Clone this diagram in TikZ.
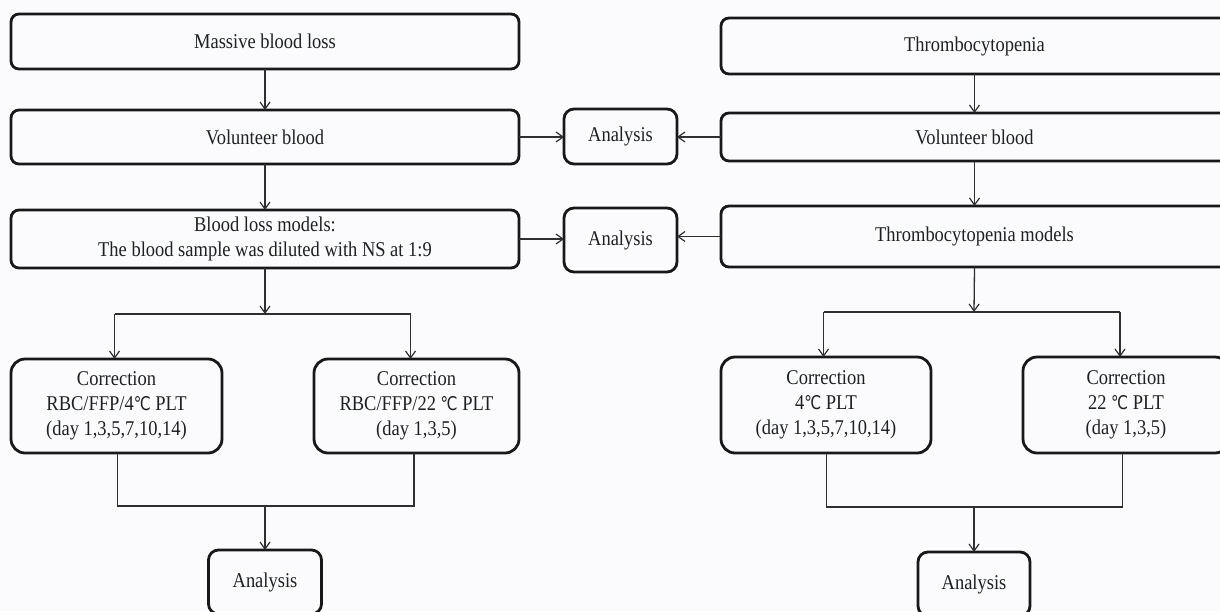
\documentclass[tikz,border=0pt]{standalone}
\usepackage{fontspec}
\setmainfont{Liberation Serif}[FakeStretch=0.88]
\newfontfamily\symfont{DejaVu Sans}[FakeStretch=0.8,Scale=0.9]
\newcommand\degc{{\symfont ℃}}
\usetikzlibrary{arrows.meta}
\definecolor{bgc}{RGB}{251,251,253}
\definecolor{boxc}{RGB}{22,24,26}
\definecolor{linec}{RGB}{45,48,50}
\definecolor{txtc}{RGB}{28,34,36}
\tikzset{
  box/.style={draw=boxc, line width=2.8pt, rounded corners=8pt, inner sep=0pt, outer sep=0pt,
    font=\fontsize{21}{25}\selectfont, text=txtc, align=center},
  corrbox/.style={box, rounded corners=14pt},
  anbox/.style={box, rounded corners=10pt},
  conn/.style={draw=linec, line width=1.3pt},
  arr/.style={conn, -{Straight Barb[length=7pt,width=10pt,line width=1.2pt]}}
}
\begin{document}
\begin{tikzpicture}[x=1pt,y=-1pt]
\useasboundingbox (0,0) rectangle (1220,611);
\fill[bgc] (0,0) rectangle (1220,611);
\clip (0,0) rectangle (1220,611);

% ---------- left column ----------
\node[box, minimum width=508pt, minimum height=55pt] (A1) at (265,41.5) {Massive blood loss};
\node[box, minimum width=508pt, minimum height=54pt] (A2) at (265,137) {Volunteer blood};
\node[box, minimum width=508pt, minimum height=58pt] (A3) at (265,239) {Blood loss models:\\The blood sample was diluted with NS at 1:9};
\node[anbox, minimum width=113pt, minimum height=55pt] (N1) at (620.5,136.5) {Analysis};
\node[anbox, minimum width=113pt, minimum height=64pt] (N2) at (620.5,240) {Analysis};
\node[corrbox, minimum width=211pt, minimum height=94pt] (C1) at (116.5,406) {Correction\\RBC/FFP/4\degc{} PLT\\(day 1,3,5,7,10,14)};
\node[corrbox, minimum width=205pt, minimum height=94pt] (C2) at (416.5,406) {Correction\\RBC/FFP/22 \degc{} PLT\\(day 1,3,5)};
\node[anbox, minimum width=113pt, minimum height=64pt] (D1) at (265,582) {Analysis};

% ---------- right column ----------
\node[box, minimum width=507pt, minimum height=56pt] (B1) at (974.5,46) {Thrombocytopenia};
\node[box, minimum width=507pt, minimum height=48pt] (B2) at (974.5,137) {Volunteer blood};
\node[box, minimum width=507pt, minimum height=61pt] (B3) at (974.5,236.5) {Thrombocytopenia models};
\node[corrbox, minimum width=210pt, minimum height=96pt] (C3) at (826,405) {Correction\\4\degc{} PLT\\(day 1,3,5,7,10,14)};
\node[corrbox, minimum width=206pt, minimum height=96pt] (C4) at (1126,405) {Correction\\22 \degc{} PLT\\(day 1,3,5)};
\node[anbox, minimum width=112pt, minimum height=64pt] (D2) at (974,584) {Analysis};

% ---------- coordinates ----------
\coordinate (S1) at (265,314);
\coordinate (S1l) at (114.5,314);
\coordinate (S1r) at (410.5,314);
\coordinate (M1) at (265,506);
\coordinate (M1l) at (117.5,506);
\coordinate (M1r) at (414,506);
\coordinate (S2) at (974,312);
\coordinate (S2l) at (823.5,312);
\coordinate (S2r) at (1120,312);
\coordinate (M2) at (974,507);
\coordinate (M2l) at (826.5,507);
\coordinate (M2r) at (1122.5,507);

% ---------- left connectors ----------
\draw[arr] (A1.south) -- (A2.north);
\draw[arr] (A2.south) -- (A3.north);
\draw[arr] (A2.east) -- (A2.east -| N1.west);
\draw[arr] (A3.east) -- (A3.east -| N2.west);
\draw[arr] (A3.south) -- (S1);
\draw[conn] (S1l) -- (S1r);
\draw[arr] (S1l) -- (S1l |- C1.north);
\draw[arr] (S1r) -- (S1r |- C2.north);
\draw[conn] (M1l |- C1.south) -- (M1l) -- (M1r) -- (M1r |- C2.south);
\draw[arr] (M1) -- (D1.north);

% ---------- right connectors ----------
\draw[arr] (B1.south) -- (B2.north);
\draw[arr] (B2.south) -- (B3.north);
\draw[arr] (B2.west) -- (B2.west -| N1.east);
\draw[arr] (B3.west) -- (B3.west -| N2.east);
\draw[arr] (B3.south) -- (S2);
\draw[conn] (S2l) -- (S2r);
\draw[arr] (S2l) -- (S2l |- C3.north);
\draw[arr] (S2r) -- (S2r |- C4.north);
\draw[conn] (M2l |- C3.south) -- (M2l) -- (M2r) -- (M2r |- C4.south);
\draw[arr] (M2) -- (D2.north);
\end{tikzpicture}
\end{document}
